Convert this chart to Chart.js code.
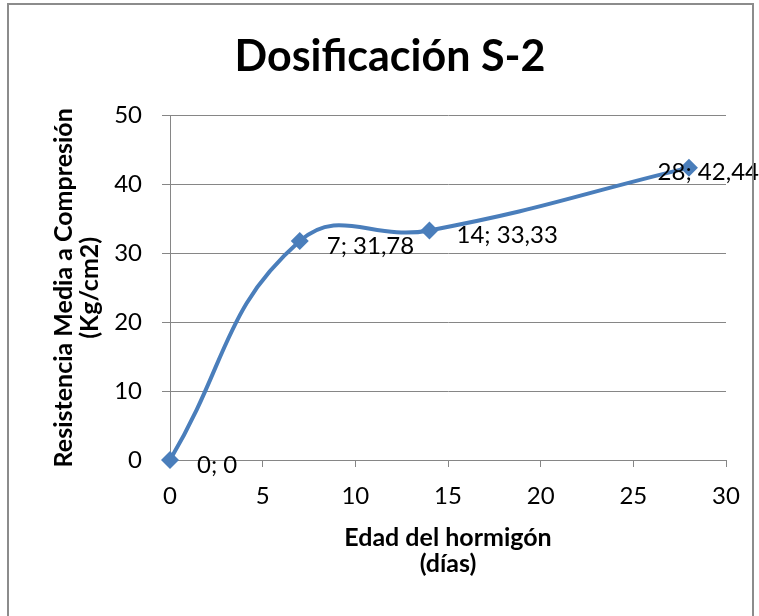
<!DOCTYPE html>
<html>
<head>
<meta charset="utf-8">
<script src="https://cdn.jsdelivr.net/npm/chart.js@4/dist/chart.umd.min.js"></script>
<style>
  html, body { margin: 0; padding: 0; background: #fff; }
  #wrap { width: 759px; height: 616px; position: relative; }
</style>
</head>
<body>
<div id="wrap"><canvas id="myChart" width="759" height="616"></canvas></div>
<script>
// Chart data
const edades = [0, 7, 14, 28];
const resistencias = [0, 31.78, 33.33, 42.44];
const xTicks = [0, 5, 10, 15, 20, 25, 30];
const yTicks = [0, 10, 20, 30, 40, 50];

const azul = '#4A7EBB';
const gris = '#868686';
const fuente = 'Lato, "Open Sans", sans-serif';

const points = edades.map((x, i) => ({ x: x, y: resistencias[i] }));

// frame around the chart (Excel chart border)
const marco = {
    id: 'marco',
    afterLayout(chart) {
        // Excel centres the title a bit to the right of the plot box
        if (chart.titleBlock) chart.titleBlock.left = 54;
    },
    afterDraw(chart) {
        const ctx = chart.ctx;
        ctx.save();
        ctx.strokeStyle = '#8c8c8c';
        ctx.lineWidth = 2;
        ctx.strokeRect(8, 4, 745, 640);
        ctx.restore();
    }
};

// data labels "x; y" with comma decimals
const etiquetas = {
    id: 'etiquetas',
    afterDatasetsDraw(chart) {
        const ctx = chart.ctx;
        const meta = chart.getDatasetMeta(0);
        ctx.save();
        ctx.font = '24px ' + fuente;
        ctx.fillStyle = '#000';
        ctx.textBaseline = 'middle';
        meta.data.forEach((pt, i) => {
            const txt = edades[i] + '; ' + String(resistencias[i]).replace('.', ',');
            const w = ctx.measureText(txt).width;
            let x = pt.x + 27;
            if (x + w > chart.width) x = chart.width - w;
            ctx.fillText(txt, x, pt.y + 5);
        });
        ctx.restore();
    }
};

const ctx = document.getElementById('myChart').getContext('2d');
const myChart = new Chart(ctx, {
    type: 'scatter',
    data: {
        datasets: [{
            data: points,
            showLine: true,
            clip: false,
            borderColor: azul,
            backgroundColor: azul,
            borderWidth: 4,
            tension: 0.45,
            pointStyle: 'rectRot',
            pointRadius: 9,
            pointHoverRadius: 9,
            pointBorderWidth: 0
        }]
    },
    options: {
        responsive: false,
        animation: false,
        events: [],
        layout: { padding: { top: 0, right: 33, bottom: 0, left: 0 } },
        plugins: {
            legend: { display: false },
            tooltip: { enabled: false },
            title: {
                display: true,
                text: 'Dosificación S-2',
                color: '#000',
                font: { family: fuente, size: 43, weight: 'bold', lineHeight: 1.2 },
                padding: { top: 31, bottom: 33 }
            }
        },
        scales: {
            x: {
                type: 'linear',
                min: 0,
                max: 30,
                afterBuildTicks(scale) { scale.ticks = xTicks.map(v => ({ value: v })); },
                afterFit(scale) { scale.height = 156; },
                grid: { drawOnChartArea: false, drawTicks: true, tickLength: 7, color: gris },
                border: { color: gris, width: 1 },
                ticks: { color: '#000', padding: 15, font: { family: fuente, size: 24 } },
                title: {
                    display: true,
                    text: ['Edad del hormigón', '(días)'],
                    color: '#000',
                    font: { family: fuente, size: 25, weight: 'bold', lineHeight: 1.04 },
                    padding: { top: 0, bottom: 39 }
                }
            },
            y: {
                type: 'linear',
                min: 0,
                max: 50,
                afterBuildTicks(scale) { scale.ticks = yTicks.map(v => ({ value: v })); },
                afterFit(scale) { scale.width = 170; },
                grid: { color: gris, lineWidth: 1, tickLength: 8 },
                border: { color: gris, width: 1 },
                ticks: { color: '#000', padding: 20, font: { family: fuente, size: 24 } },
                title: {
                    display: true,
                    text: ['Resistencia Media a Compresión', '(Kg/cm2)'],
                    color: '#000',
                    font: { family: fuente, size: 25, weight: 'bold', lineHeight: 1.04 },
                    padding: { top: 51, bottom: 0 }
                }
            }
        }
    },
    plugins: [marco, etiquetas]
});
</script>
</body>
</html>
